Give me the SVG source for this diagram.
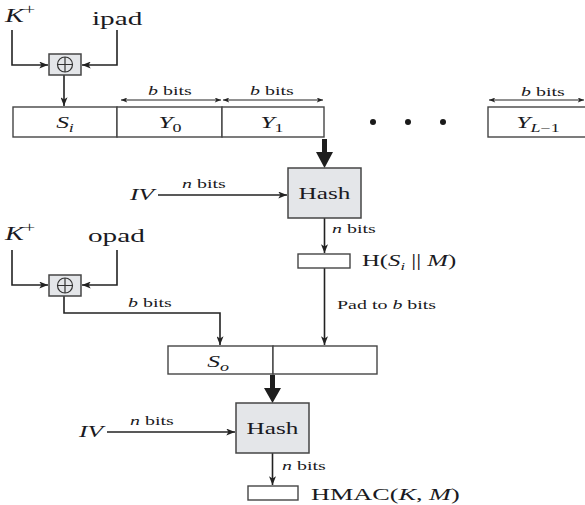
<svg xmlns="http://www.w3.org/2000/svg" width="585" height="505" viewBox="0 0 585 505">
<style>
text{font-family:"Liberation Serif","Times New Roman",serif;fill:#1a1a22}
.i{font-style:italic}
.lbl{font-size:13.3px}
.big{font-size:19.5px}
.cell{font-size:17px}
.box{fill:#fff;stroke:#454545;stroke-width:1.4}
.gbox{fill:#e4e6e9;stroke:#454545;stroke-width:1.5}
.ln{fill:none;stroke:#222;stroke-width:1.6}
.dim{fill:none;stroke:#222;stroke-width:1}
.thick{fill:#1e1e1e}
</style>
<defs>
<marker id="ah" viewBox="0 0 10 8" refX="10" refY="4" markerWidth="9" markerHeight="7" markerUnits="userSpaceOnUse" orient="auto"><path d="M0,0 L10,4 L0,8 L2.5,4 z" fill="#222"/></marker>
<marker id="dh" viewBox="0 0 10 8" refX="10" refY="4" markerWidth="7" markerHeight="5" markerUnits="userSpaceOnUse" orient="auto-start-reverse"><path d="M0,0 L10,4 L0,8 L2.5,4 z" fill="#222"/></marker>
</defs>

<g id="connectors">
<path class="ln" d="M12,30 V65 H48" marker-end="url(#ah)"/>
<path class="ln" d="M117,30 V65 H82" marker-end="url(#ah)"/>
<path class="ln" d="M64,75 V106" marker-end="url(#ah)"/>
<path class="dim" d="M121,100 H221" marker-start="url(#dh)" marker-end="url(#dh)"/>
<path class="dim" d="M223,100 H323" marker-start="url(#dh)" marker-end="url(#dh)"/>
<path class="dim" d="M489,100 H584" marker-start="url(#dh)" marker-end="url(#dh)"/>
<path class="thick" d="M322,139 H327 V152 H333 L324.5,168 L316,152 H322 Z"/>
<path class="ln" d="M158,195 H287" marker-end="url(#ah)"/>
<path class="ln" d="M324.5,218 V253" marker-end="url(#ah)"/>
<path class="ln" d="M324.5,268 V345" marker-end="url(#ah)"/>
<path class="ln" d="M12,250 V285 H48" marker-end="url(#ah)"/>
<path class="ln" d="M117,250 V285 H82" marker-end="url(#ah)"/>
<path class="ln" d="M64,296 V313 H220 V345" marker-end="url(#ah)"/>
<path class="thick" d="M270,375 H275 V388 H281 L272.5,403 L264,388 H270 Z"/>
<path class="ln" d="M107,432 H235" marker-end="url(#ah)"/>
<path class="ln" d="M272.5,453 V485" marker-end="url(#ah)"/>
</g>

<g id="key1">
<text class="i big" transform="translate(5,22) scale(1.45,1)">K<tspan font-style="normal" font-size="14" dy="-8">+</tspan></text>
</g>
<g id="ipad">
<text class="big" transform="translate(92,25) scale(1.5,1)">ipad</text>
</g>
<g id="xor1">
<rect class="gbox" x="49" y="54" width="32" height="21"/>
<circle cx="65" cy="64.5" r="7.5" fill="none" stroke="#333" stroke-width="1.2"/>
<path d="M57.5,64.5 H72.5 M65,57 V72" stroke="#333" stroke-width="1.2"/>
</g>

<g id="message">
<rect class="box" x="13" y="107" width="104" height="30"/>
<rect class="box" x="117" y="107" width="105" height="30"/>
<rect class="box" x="222" y="107" width="102" height="30"/>
<rect class="box" x="488" y="107" width="110" height="30"/>
<text class="cell i" text-anchor="middle" transform="translate(65,128) scale(1.5,1)">S<tspan font-size="12" dy="4">i</tspan></text>
<text class="cell i" text-anchor="middle" transform="translate(170,128) scale(1.5,1)">Y<tspan font-style="normal" font-size="12" dy="4">0</tspan></text>
<text class="cell i" text-anchor="middle" transform="translate(272,128) scale(1.5,1)">Y<tspan font-style="normal" font-size="12" dy="4">1</tspan></text>
<text class="cell i" text-anchor="middle" transform="translate(538,128) scale(1.5,1)">Y<tspan font-size="12" dy="4">L</tspan><tspan font-style="normal" font-size="12">−1</tspan></text>
<text class="lbl" text-anchor="middle" transform="translate(170,95) scale(1.5,1)"><tspan class="i">b</tspan> bits</text>
<text class="lbl" text-anchor="middle" transform="translate(272,95) scale(1.5,1)"><tspan class="i">b</tspan> bits</text>
<text class="lbl" text-anchor="middle" transform="translate(543,96) scale(1.5,1)"><tspan class="i">b</tspan> bits</text>
<circle cx="373" cy="122" r="3" fill="#1a1a1a"/>
<circle cx="408" cy="122" r="3" fill="#1a1a1a"/>
<circle cx="443" cy="122" r="3" fill="#1a1a1a"/>
</g>

<g id="iv1">
<text class="cell i" text-anchor="end" transform="translate(154,200) scale(1.5,1)">IV</text>
<text class="lbl" transform="translate(182,188) scale(1.5,1)"><tspan class="i">n</tspan> bits</text>
</g>
<g id="hash1">
<rect class="gbox" x="288" y="168" width="73" height="50"/>
<text font-size="16.8" text-anchor="middle" transform="translate(324.5,199) scale(1.5,1)">Hash</text>
<text class="lbl" transform="translate(332,233) scale(1.5,1)"><tspan class="i">n</tspan> bits</text>
</g>
<g id="inner-hash">
<rect class="box" x="298" y="254" width="52" height="14"/>
<text font-size="16.5" transform="translate(362,266) scale(1.5,1)">H(<tspan class="i">S</tspan><tspan class="i" font-size="11" dy="4">i</tspan><tspan dy="-4"> || </tspan><tspan class="i">M</tspan>)</text>
<text class="lbl" transform="translate(337,309) scale(1.5,1)">Pad to <tspan class="i">b</tspan> bits</text>
</g>

<g id="key2">
<text class="i big" transform="translate(5,240) scale(1.45,1)">K<tspan font-style="normal" font-size="14" dy="-8">+</tspan></text>
</g>
<g id="opad">
<text class="big" transform="translate(88,242) scale(1.5,1)">opad</text>
</g>
<g id="xor2">
<rect class="gbox" x="49" y="275" width="32" height="21"/>
<circle cx="65" cy="285.5" r="7.5" fill="none" stroke="#333" stroke-width="1.2"/>
<path d="M57.5,285.5 H72.5 M65,278 V293" stroke="#333" stroke-width="1.2"/>
<text class="lbl" transform="translate(128,307) scale(1.5,1)"><tspan class="i">b</tspan> bits</text>
</g>

<g id="outer-block">
<rect class="box" x="168" y="346" width="105" height="28"/>
<rect class="box" x="273" y="346" width="104" height="28"/>
<text class="cell i" text-anchor="middle" transform="translate(218,367) scale(1.5,1)">S<tspan font-size="12" dy="4">o</tspan></text>
</g>

<g id="iv2">
<text class="cell i" text-anchor="end" transform="translate(103,437) scale(1.5,1)">IV</text>
<text class="lbl" transform="translate(130,425) scale(1.5,1)"><tspan class="i">n</tspan> bits</text>
</g>
<g id="hash2">
<rect class="gbox" x="236" y="403" width="73" height="50"/>
<text font-size="16.8" text-anchor="middle" transform="translate(272.5,434) scale(1.5,1)">Hash</text>
<text class="lbl" transform="translate(282,470) scale(1.5,1)"><tspan class="i">n</tspan> bits</text>
</g>
<g id="hmac">
<rect class="box" x="248" y="486" width="50" height="14"/>
<text font-size="17.5" transform="translate(311,500) scale(1.5,1)">HMAC(<tspan class="i">K</tspan>, <tspan class="i">M</tspan>)</text>
</g>
</svg>
